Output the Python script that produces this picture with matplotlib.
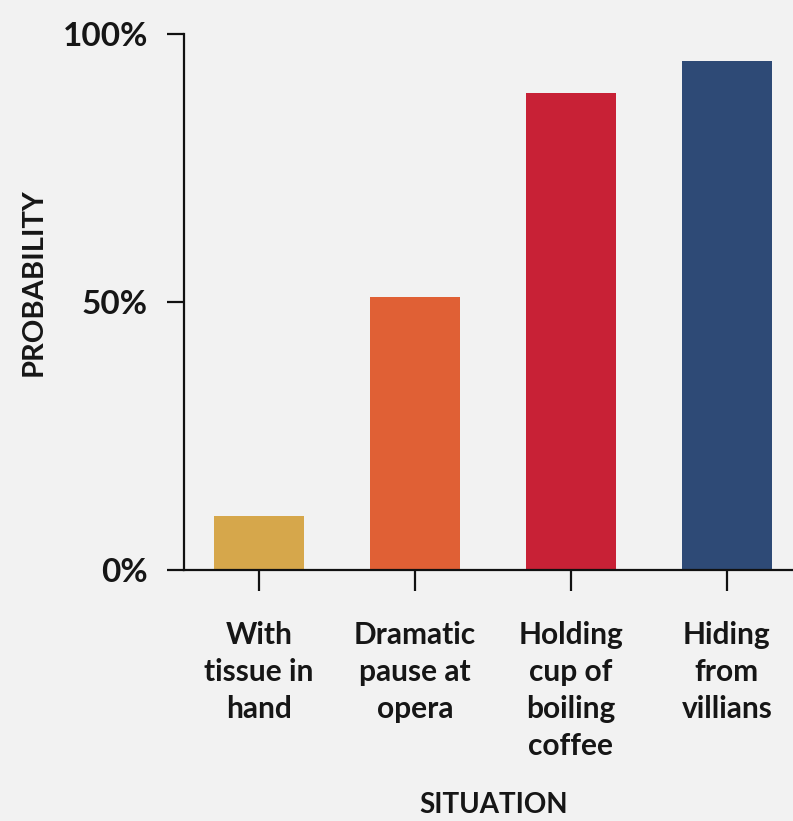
import matplotlib
matplotlib.use("Agg")
import matplotlib.pyplot as plt
from matplotlib.ticker import FixedLocator

situations = ["With\ntissue in\nhand", "Dramatic\npause at\nopera",
              "Holding\ncup of\nboiling\ncoffee", "Hiding\nfrom\nvillians"]
probability = [10, 51, 89, 95]
bar_colors = ["#d6a74b", "#e06035", "#c82136", "#2e4a76"]
ytick_values = [0, 50, 100]
ytick_labels = ["0%", "50%", "100%"]

plt.rcParams["font.family"] = ["Lato", "DejaVu Sans"]
bg = "#f2f2f2"
ink = "#161616"

fig = plt.figure(figsize=(7.93, 8.21), dpi=100, facecolor=bg)
ax = fig.add_axes([0.232, 0.3057, 0.80, 0.6529], facecolor=bg)

x = list(range(len(situations)))
ax.bar(x, probability, width=0.58, color=bar_colors, zorder=2)

ax.set_xlim(-0.48, 3.587)
ax.set_ylim(0, 100)

for side in ["top", "right"]:
    ax.spines[side].set_visible(False)
for side in ["left", "bottom"]:
    ax.spines[side].set_linewidth(1.6)
    ax.spines[side].set_color("#111111")
ax.spines["bottom"].set_zorder(3)

ax.yaxis.set_major_locator(FixedLocator(ytick_values))
ax.set_yticklabels(ytick_labels, fontsize=24, fontweight="bold", color=ink)
ax.tick_params(axis="y", length=12, width=1.6, pad=14, color="#111111")

ax.set_xticks(x)
ax.set_xticklabels(situations, fontsize=21.5, fontweight="bold", color=ink,
                   linespacing=1.38, va="top")
ax.tick_params(axis="x", length=15, width=1.6, pad=22, color="#111111")

fig.text(0.042, 0.6565, "PROBABILITY", fontsize=21, fontweight="bold", color=ink,
         rotation=90, ha="center", va="center")
fig.text(0.622, 0.019, "SITUATION", fontsize=20, fontweight="bold", color=ink,
         ha="center", va="center")

fig.savefig("out.png", dpi=100, facecolor=bg)
